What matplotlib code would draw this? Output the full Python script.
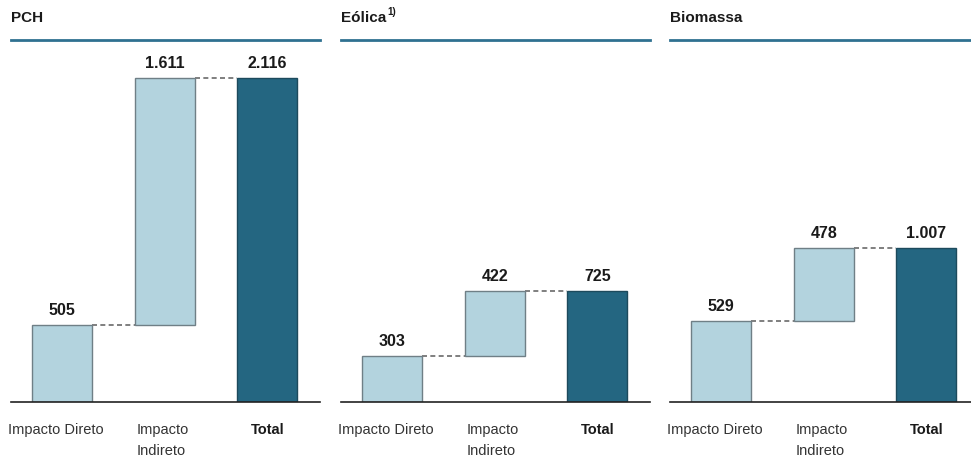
import matplotlib.pyplot as plt

# data
panels = ["PCH", "Eólica", "Biomassa"]
notes = ["", "1)", ""]
direto = [505, 303, 529]
indireto = [1611, 422, 478]
total = [2116, 725, 1007]
value_labels = [["505", "1.611", "2.116"],
                 ["303", "422", "725"],
                 ["529", "478", "1.007"]]
categories = ["Impacto Direto", "Impacto\nIndireto", "Total"]

light = "#b3d3de"
dark = "#246681"
line_blue = "#2f7191"

plt.rcParams['font.family'] = ['Liberation Sans', 'DejaVu Sans']

fig = plt.figure(figsize=(9.71, 4.59), dpi=100)
W, H = 971, 459

# axes boxes in pixels: left, right
boxes = [(11, 320), (341, 650), (670, 971)]
base_px = 402
top_px = 40
px_per_unit = 102.5
scale = 324 / 2116  # px per value unit

for i, (l, r) in enumerate(boxes):
    ax = fig.add_axes([l / W, (H - base_px) / H, (r - l) / W, (base_px - top_px) / H])
    ax.set_xlim(-0.5, -0.5 + (r - l) / px_per_unit)
    ax.set_ylim(0, (base_px - top_px) / scale)

    bottoms = [0, direto[i], 0]
    heights = [direto[i], indireto[i], total[i]]
    colors = [light, light, dark]
    edges = ["#6f7f86", "#6f7f86", "#1d4a5c"]
    w = 0.585
    ax.bar(range(3), heights, bottom=bottoms, width=w, color=colors,
           edgecolor=edges, linewidth=1.0, zorder=2)

    tops = [direto[i], direto[i] + indireto[i], total[i]]
    # connectors
    for k in range(2):
        ax.plot([k + w / 2, k + 1 - w / 2], [tops[k], tops[k]], ls=(0, (3, 2)),
                color="#6a6a6a", lw=1.2, zorder=1)

    for k in range(3):
        ax.annotate(value_labels[i][k], (k, tops[k]), xytext=(0, 5),
                    textcoords="offset points", ha="center", va="bottom",
                    fontsize=11.5, fontweight="bold", color="#1a1a1a")

    # category labels
    ax.text(0 - 0.06, -0.058, categories[0], transform=ax.get_xaxis_transform(),
            ha="center", va="top", fontsize=10.5, color="#333333")
    ax.text(1 - w / 2 + 0.02, -0.058, categories[1], transform=ax.get_xaxis_transform(),
            ha="left", va="top", fontsize=10.5, color="#333333", linespacing=1.6)
    ax.text(2, -0.058, categories[2], transform=ax.get_xaxis_transform(),
            ha="center", va="top", fontsize=10.5, fontweight="bold", color="#1a1a1a")

    for s in ["left", "right"]:
        ax.spines[s].set_visible(False)
    ax.spines["top"].set_color(line_blue)
    ax.spines["top"].set_linewidth(2)
    ax.spines["bottom"].set_color("#222222")
    ax.spines["bottom"].set_linewidth(1.2)
    ax.set_xticks([])
    ax.set_yticks([])

    t = ax.set_title(panels[i], loc="left", fontsize=11, fontweight="bold",
                     color="#1a1a1a", pad=13)
    if notes[i]:
        ax.annotate(notes[i], xy=(1, 0.55), xycoords=t, xytext=(1, 0),
                    textcoords="offset points", fontsize=7, fontweight="bold",
                    color="#1a1a1a", va="bottom")

fig.savefig("out.png", dpi=100)
